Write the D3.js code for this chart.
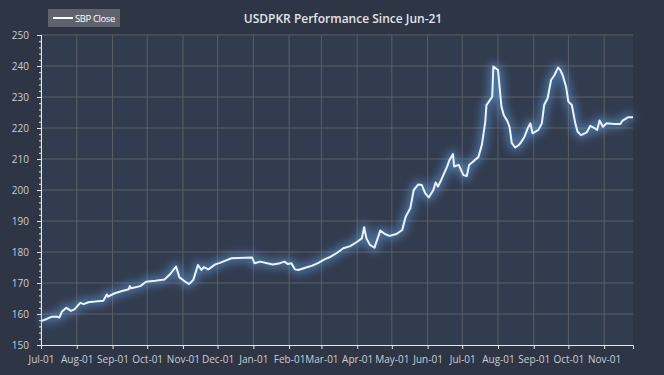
<!DOCTYPE html>
<html>
<head>
<meta charset="utf-8">
<script src="https://cdn.jsdelivr.net/npm/d3@7"></script>
<style>
  body { margin: 0; background: #2e3646; }
  svg { display: block; font-family: "Open Sans", sans-serif; }
</style>
</head>
<body>
<svg id="chart" width="664" height="375"></svg>
<script>
/*
  USDPKR line chart, SBP close since Jun-21
*/

// Series (dates, values in PKR per USD)
const dates = [
  '2021-07-01', '2021-07-06', '2021-07-10', '2021-07-15', '2021-07-17', '2021-07-19', '2021-07-23', '2021-07-27', '2021-07-30',
  '2021-08-04', '2021-08-07', '2021-08-11', '2021-08-17', '2021-08-24', '2021-08-27', '2021-08-28',
  '2021-09-03', '2021-09-10', '2021-09-15', '2021-09-16', '2021-09-17', '2021-09-25', '2021-09-30',
  '2021-10-08', '2021-10-16', '2021-10-21', '2021-10-26', '2021-10-29',
  '2021-11-03', '2021-11-06', '2021-11-07', '2021-11-10', '2021-11-14', '2021-11-17', '2021-11-19', '2021-11-23', '2021-11-29',
  '2021-12-03', '2021-12-09', '2021-12-13', '2021-12-31',
  '2022-01-02', '2022-01-07', '2022-01-13', '2022-01-18', '2022-01-24', '2022-01-28', '2022-01-31',
  '2022-02-03', '2022-02-06', '2022-02-09', '2022-02-15', '2022-02-21', '2022-02-26',
  '2022-03-04', '2022-03-08', '2022-03-14', '2022-03-20', '2022-03-26',
  '2022-04-01', '2022-04-05', '2022-04-07', '2022-04-09', '2022-04-12', '2022-04-16', '2022-04-21', '2022-04-25', '2022-04-29',
  '2022-05-05', '2022-05-10', '2022-05-13', '2022-05-17', '2022-05-20', '2022-05-24', '2022-05-27', '2022-05-30',
  '2022-06-02', '2022-06-06', '2022-06-08', '2022-06-10', '2022-06-13', '2022-06-18', '2022-06-20', '2022-06-23', '2022-06-24', '2022-06-28',
  '2022-07-02', '2022-07-05', '2022-07-07', '2022-07-12', '2022-07-15', '2022-07-18', '2022-07-21', '2022-07-22', '2022-07-25', '2022-07-27', '2022-07-28',
  '2022-08-01', '2022-08-04', '2022-08-06', '2022-08-09', '2022-08-11', '2022-08-13', '2022-08-16', '2022-08-19', '2022-08-21', '2022-08-24', '2022-08-27', '2022-08-29', '2022-08-31',
  '2022-09-05', '2022-09-08', '2022-09-10', '2022-09-13', '2022-09-16', '2022-09-19', '2022-09-22', '2022-09-24', '2022-09-26', '2022-09-29',
  '2022-10-01', '2022-10-04', '2022-10-07', '2022-10-09', '2022-10-12', '2022-10-17', '2022-10-20', '2022-10-24', '2022-10-26', '2022-10-28', '2022-10-31',
  '2022-11-03', '2022-11-10', '2022-11-15', '2022-11-17', '2022-11-22', '2022-11-26'
];
const closes = [
  157.7, 158.4, 159.1, 159.1, 158.9, 160.7, 162.0, 161.0, 161.5,
  163.6, 163.2, 163.8, 164.0, 164.3, 166.3, 165.6,
  166.7, 167.5, 168.0, 169.0, 168.3, 169.0, 170.4,
  170.7, 171.1, 172.9, 175.3, 171.8,
  170.4, 169.7, 169.9, 171.0, 175.8, 174.2, 175.1, 174.4, 176.0,
  176.5, 177.4, 178.0, 178.2,
  176.4, 176.9, 176.4, 176.0, 176.4, 176.9, 176.1,
  176.4, 174.4, 174.2, 174.9, 175.6, 176.4,
  177.7, 178.3, 179.6, 181.2, 181.9,
  183.3, 184.4, 188.0, 184.4, 182.3, 181.4, 186.9, 185.8, 185.2,
  185.8, 187.1, 191.4, 194.1, 200.0, 201.8, 201.6, 198.9,
  197.6, 200.0, 202.4, 201.1, 203.4, 207.6, 209.7, 211.6, 207.6, 208.1,
  204.8, 204.5, 208.1, 209.7, 210.6, 214.5, 222.0, 227.4, 229.0, 230.1, 239.8,
  238.7, 226.9, 224.2, 222.3, 220.4, 215.1, 213.7, 214.5, 215.4, 217.2, 220.1, 221.5, 218.3,
  219.4, 221.5, 227.4, 229.6, 235.5, 237.1, 239.5, 238.7, 237.1, 233.3,
  228.5, 227.4, 221.5, 218.8, 217.7, 218.6, 220.7, 219.9, 219.4, 222.4, 220.4,
  221.5, 221.3, 221.3, 222.4, 223.5, 223.5
];

const seriesName = 'SBP Close';
const title = 'USDPKR Performance Since Jun-21';
const timeStart = '2021-07-01';
const timeEnd = '2022-11-26';
const yDomain = [150, 250];

const parse = d3.timeParse('%Y-%m-%d');
const data = dates.map((d, i) => ({ date: parse(d), close: closes[i] }));

// Dimensions
const WIDTH = 664;
const HEIGHT = 375;
const margin = { left: 41, right: 31, top: 35, bottom: 30 };

const svg = d3.select('#chart');

/**
 * Scales
 */
const scale = {};
scale.x = d3.scaleTime()
  .domain([parse(timeStart), parse(timeEnd)])
  .range([margin.left, WIDTH - margin.right]);

scale.y = d3.scaleLinear()
  .domain(yDomain)
  .range([HEIGHT - margin.bottom, margin.top]);

const monthTicks = d3.timeMonth.range(parse(timeStart), d3.timeDay.offset(parse(timeEnd), 1));

// plot background
svg.append('rect')
  .attr('x', margin.left)
  .attr('y', margin.top)
  .attr('width', WIDTH - margin.left - margin.right)
  .attr('height', HEIGHT - margin.top - margin.bottom)
  .attr('fill', '#323c4f');

// glow filter
const defs = svg.append('defs');
defs.append('filter')
  .attr('id', 'glow')
  .attr('x', '-10%').attr('y', '-20%')
  .attr('width', '120%').attr('height', '140%')
  .append('feGaussianBlur')
  .attr('stdDeviation', 4);

/*
 * Grid
 */
svg.append('g')
  .attr('class', 'grid')
  .selectAll('line.gx')
  .data(monthTicks)
  .join('line')
  .attr('x1', d => scale.x(d)).attr('x2', d => scale.x(d))
  .attr('y1', margin.top).attr('y2', HEIGHT - margin.bottom)
  .attr('stroke', '#5d5e63')
  .attr('stroke-width', 1);

svg.append('g')
  .attr('class', 'grid')
  .selectAll('line.gy')
  .data(d3.range(160, 251, 10))
  .join('line')
  .attr('x1', margin.left).attr('x2', WIDTH - margin.right)
  .attr('y1', d => scale.y(d)).attr('y2', d => scale.y(d))
  .attr('stroke', '#5d5e63')
  .attr('stroke-width', 1);

/*
 * Axes
 */
const axis = {};
axis.x = d3.axisBottom(scale.x)
  .tickValues(monthTicks)
  .tickSize(4)
  .tickPadding(7)
  .tickFormat(d3.timeFormat('%b-%d'));

axis.y = d3.axisLeft(scale.y)
  .tickValues(d3.range(150, 251, 10))
  .tickSize(4)
  .tickPadding(8);

axis.yMinor = d3.axisLeft(scale.y)
  .tickValues(d3.range(150, 251, 2))
  .tickSize(2)
  .tickFormat('');

const gx = svg.append('g')
  .attr('transform', `translate(0, ${HEIGHT - margin.bottom})`)
  .call(axis.x);

const gyMinor = svg.append('g')
  .attr('transform', `translate(${margin.left}, 0)`)
  .call(axis.yMinor);

const gy = svg.append('g')
  .attr('transform', `translate(${margin.left}, 0)`)
  .call(axis.y);

[gx, gy, gyMinor].forEach(g => {
  g.select('.domain').attr('stroke', '#e4e6ea');
  g.selectAll('.tick line').attr('stroke', '#e4e6ea');
  g.selectAll('.tick text')
    .attr('fill', '#c9cdd5')
    .style('font-family', '"Open Sans", sans-serif')
    .style('font-size', '10px');
});

/*
 * Line with glow
 */
const line = d3.line()
  .x(d => scale.x(d.date))
  .y(d => scale.y(d.close));

svg.append('path')
  .datum(data)
  .attr('d', line)
  .attr('fill', 'none')
  .attr('stroke', '#5b9be0')
  .attr('stroke-width', 8)
  .attr('stroke-opacity', 0.6)
  .attr('stroke-linejoin', 'round')
  .attr('filter', 'url(#glow)');

svg.append('path')
  .datum(data)
  .attr('d', line)
  .attr('fill', 'none')
  .attr('stroke', '#eef3fb')
  .attr('stroke-width', 2)
  .attr('stroke-linejoin', 'round');

/*
 * Title and legend
 */
svg.append('text')
  .attr('x', 343)
  .attr('y', 23)
  .attr('text-anchor', 'middle')
  .attr('fill', '#e2e4e8')
  .style('font-size', '12px')
  .style('font-weight', 600)
  .text(title);

const legend = svg.append('g').attr('transform', 'translate(48, 9)');
legend.append('rect')
  .attr('width', 72)
  .attr('height', 18)
  .attr('fill', '#5e636d');
legend.append('line')
  .attr('x1', 5).attr('x2', 25)
  .attr('y1', 9).attr('y2', 9)
  .attr('stroke', '#ffffff')
  .attr('stroke-width', 2);
legend.append('text')
  .attr('x', 27)
  .attr('y', 12.5)
  .attr('fill', '#ffffff')
  .style('font-size', '9.5px')
  .style('letter-spacing', '-0.4px')
  .text(seriesName);
</script>
</body>
</html>
